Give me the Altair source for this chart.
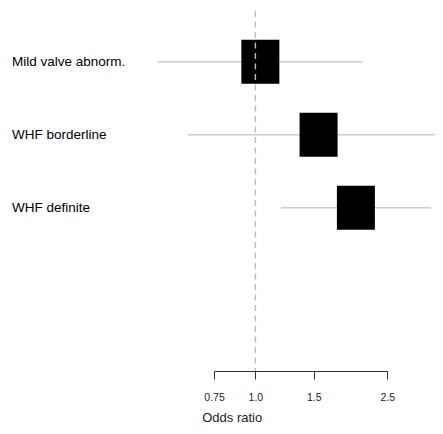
import altair as alt
import pandas as pd

labels = ["Mild valve abnorm.", "WHF borderline", "WHF definite"]
odds_ratio = [1.035, 1.551, 2.01]
ci_lower = [0.506, 0.625, 1.193]
ci_upper = [2.108, 3.9, 3.39]

tick_values = [0.75, 1.0, 1.5, 2.5]

df = pd.DataFrame({"label": labels, "or": odds_ratio, "lo": ci_lower, "hi": ci_upper})

FONT = "Liberation Sans"
W, H = 427, 363

xscale = alt.Scale(type="log", domain=[0.75, 2.5], range=[206, 379.3])
yscale = alt.Scale(type="point", domain=labels, range=[53.7, 199.7], padding=0)

base = alt.Chart(df)

ci = base.mark_rule(color="#cccccc", strokeWidth=1.6, clip=True).encode(
    x=alt.X("lo:Q", scale=xscale,
            axis=alt.Axis(values=tick_values, labelExpr="datum.value == 1 ? '1.0' : datum.label",
                          format=".2~f", grid=False, tickSize=8, tickColor="#333", domainColor="#333",
                          domainWidth=1, tickWidth=1, labelFont=FONT, labelFontSize=10.5,
                          labelColor="#222", labelPadding=13, labelFlush=False,
                          title="Odds ratio", titleFont=FONT, titleFontSize=13,
                          titleFontWeight="normal", titleColor="#222",
                          titleX=223.7, titleY=46, titleAlign="center", titleBaseline="middle")),
    x2="hi:Q",
    y=alt.Y("label:N", scale=yscale, axis=None),
)

boxes = base.mark_point(
    shape="M-0.8636,-1H0.8636V1H-0.8636Z", size=1936, filled=True, color="black", opacity=1
).encode(
    x=alt.X("or:Q", scale=xscale),
    y=alt.Y("label:N", scale=yscale),
)

ref = alt.Chart(pd.DataFrame({"v": [1.0]})).mark_rule(
    color="#bbbbbb", strokeWidth=1.4, strokeDash=[6, 4.5]
).encode(
    x=alt.X("v:Q", scale=xscale),
    y=alt.value(3),
    y2=alt.value(H),
)

text = base.mark_text(align="left", baseline="middle", font=FONT, fontSize=13.5, color="black").encode(
    x=alt.value(4),
    y=alt.Y("label:N", scale=yscale),
    text="label:N",
)

chart = alt.layer(ci, boxes, ref, text).properties(
    width=W, height=H,
    autosize=alt.AutoSizeParams(type="none"),
    padding={"left": 0, "top": 0, "right": 0, "bottom": 55},
).configure_view(stroke=None)

chart.save("out.html", embed_options={"renderer": "svg", "actions": False})
